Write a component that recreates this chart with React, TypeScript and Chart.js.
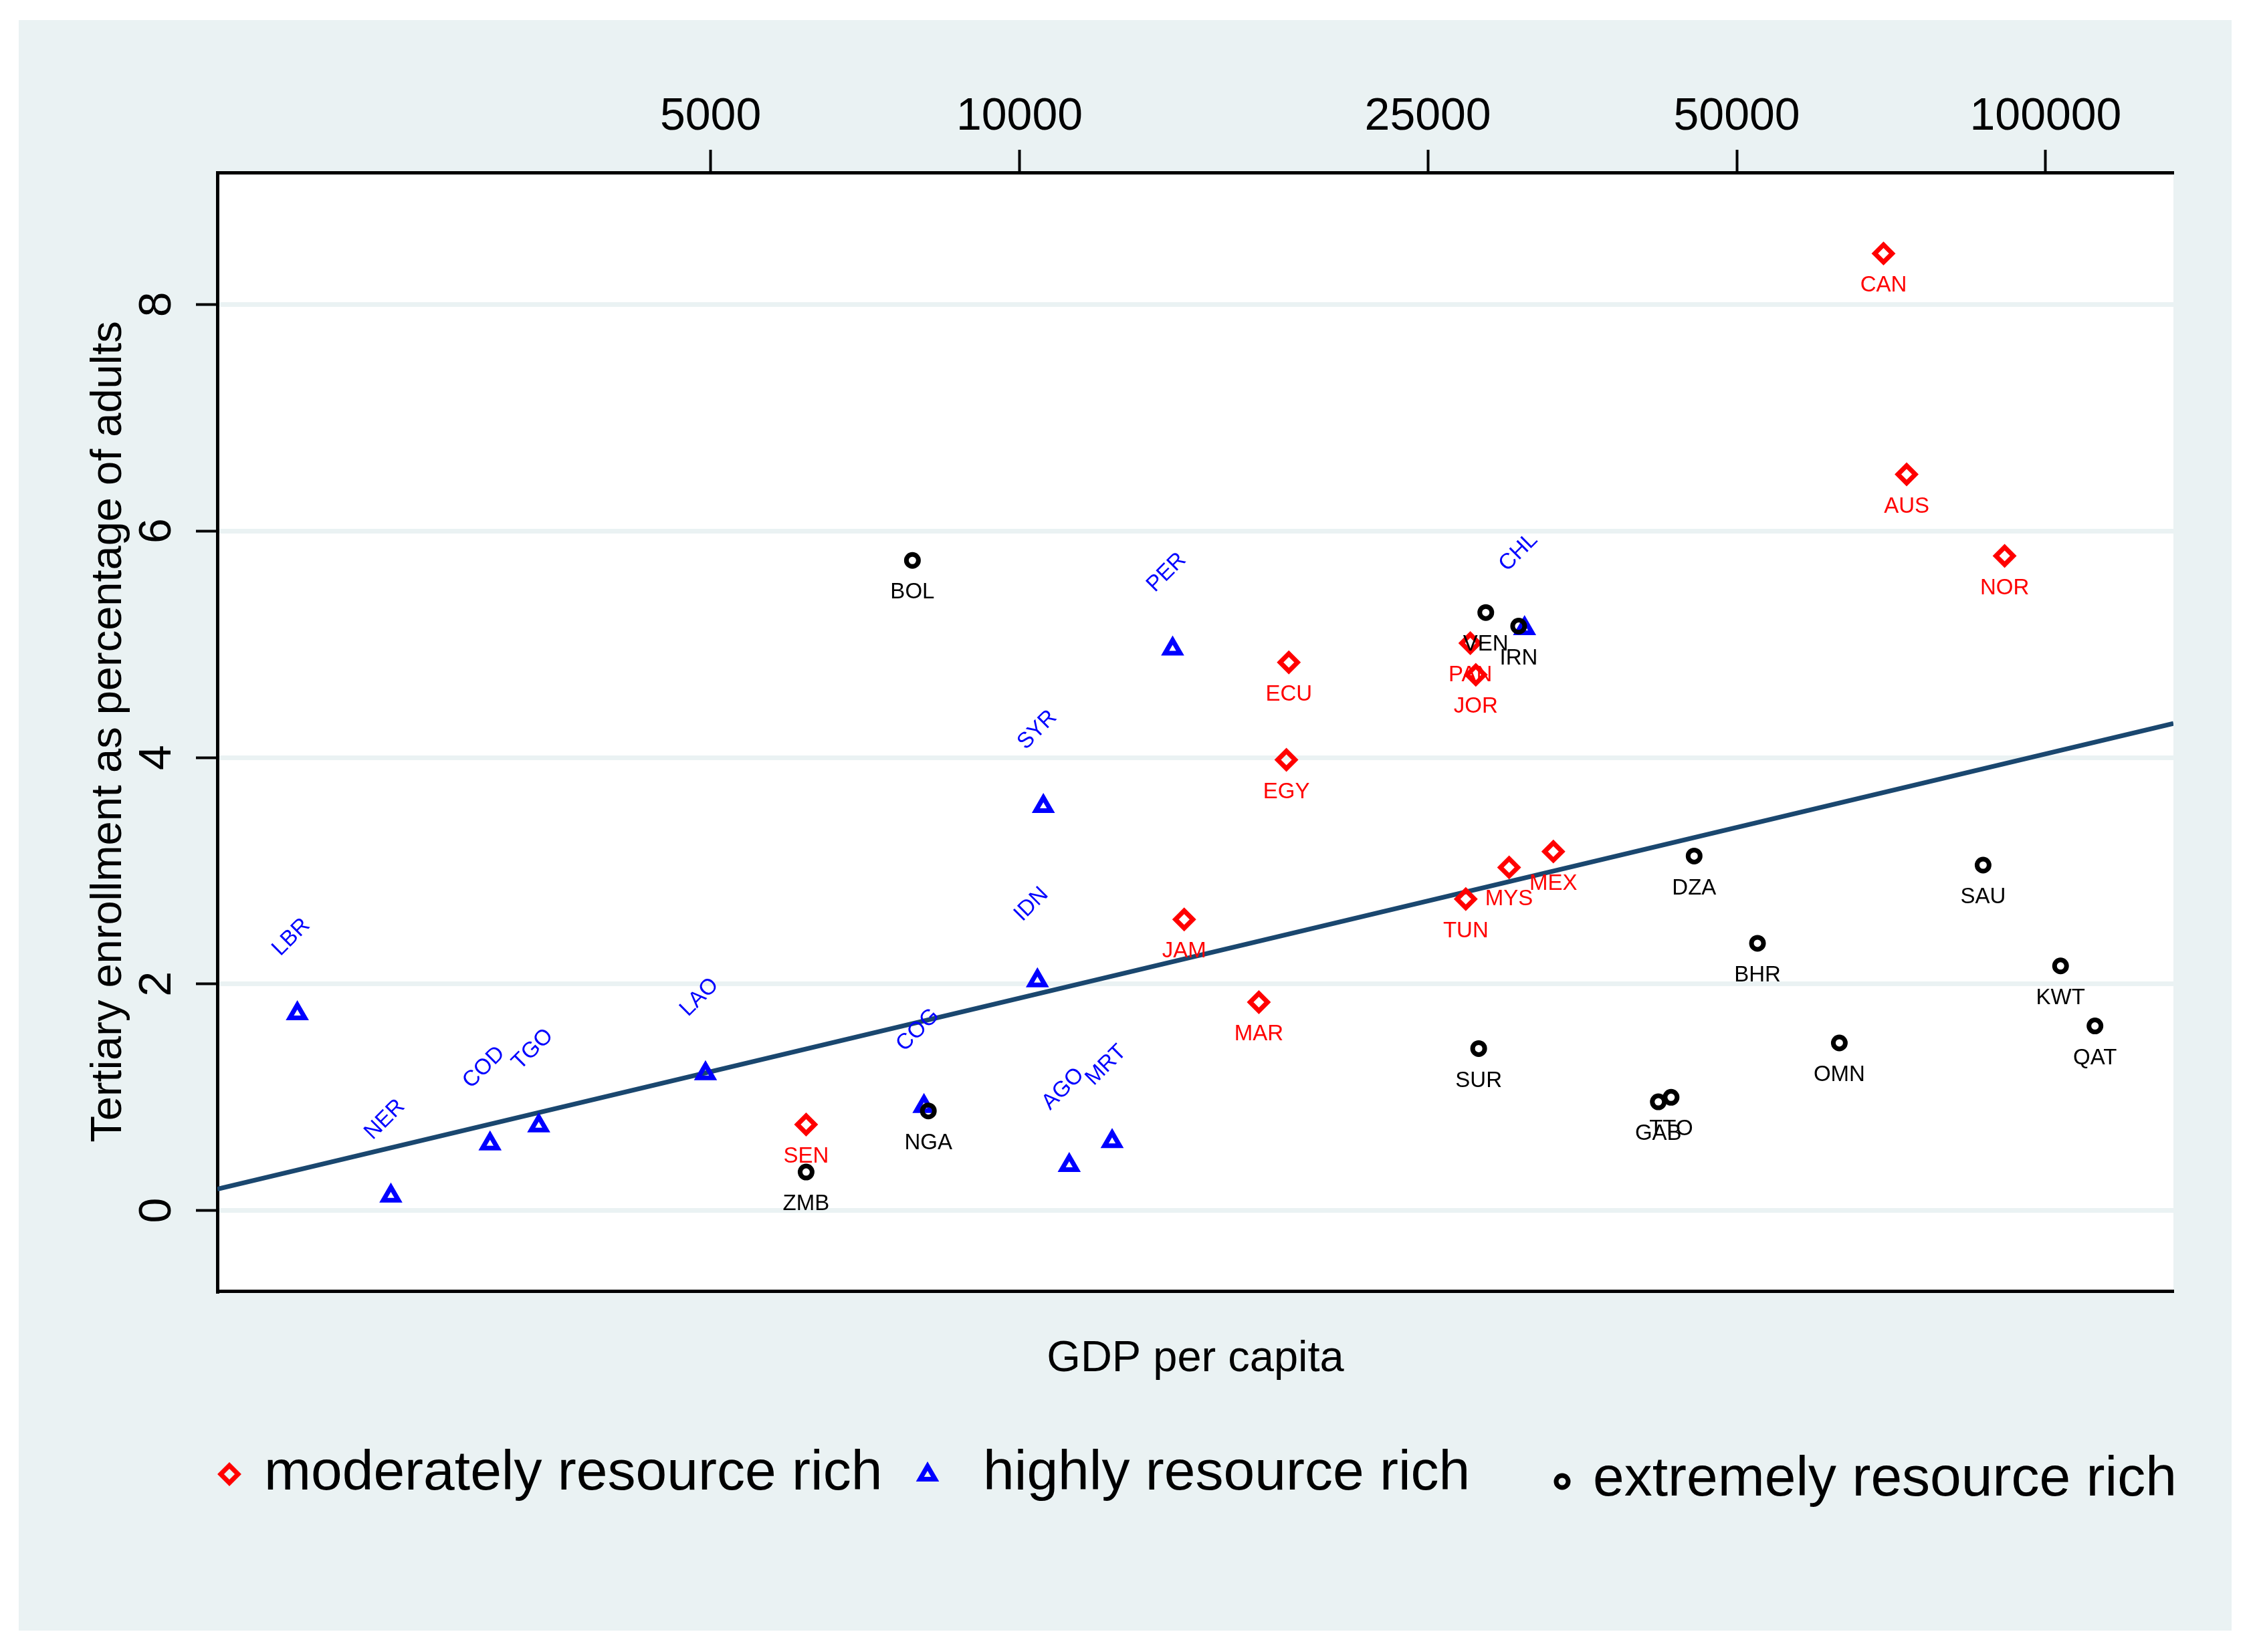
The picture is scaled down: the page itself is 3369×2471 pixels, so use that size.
import React, { useEffect, useRef } from 'react';
import { Chart, registerables } from 'chart.js';

Chart.register(...registerables);

// ---- data ----
const modCodes = ['CAN', 'AUS', 'NOR', 'ECU', 'EGY', 'PAN', 'JOR', 'MYS', 'MEX', 'TUN', 'JAM', 'MAR', 'SEN'];
const modGdp = [69500, 73200, 91200, 18300, 18200, 27500, 27840, 30000, 33130, 27220, 14470, 17110, 6195];
const modEnroll = [8.45, 6.5, 5.78, 4.84, 3.98, 5.01, 4.73, 3.03, 3.17, 2.75, 2.57, 1.84, 0.76];

const highCodes = ['LBR', 'NER', 'COD', 'TGO', 'LAO', 'COG', 'IDN', 'SYR', 'AGO', 'MRT', 'PER', 'CHL'];
const highGdp = [1978, 2440, 3048, 3400, 4943, 8070, 10410, 10550, 11180, 12310, 14100, 31060];
const highEnroll = [1.74, 0.13, 0.59, 0.75, 1.21, 0.92, 2.03, 3.57, 0.4, 0.61, 4.96, 5.14];

const extCodes = ['BOL', 'ZMB', 'NGA', 'VEN', 'IRN', 'SUR', 'DZA', 'GAB', 'TTO', 'BHR', 'OMN', 'SAU', 'KWT', 'QAT'];
const extGdp = [7864, 6195, 8150, 28470, 30650, 28020, 45440, 41930, 43150, 52380, 62940, 86900, 103400, 111700];
const extEnroll = [5.74, 0.34, 0.88, 5.28, 5.16, 1.43, 3.13, 0.96, 1.0, 2.36, 1.48, 3.05, 2.16, 1.63];

const fitGdp = [1653, 133200];
const fitEnroll = [0.19, 4.3];

const xTickValues = [5000, 10000, 25000, 50000, 100000];
const yTickValues = [0, 2, 4, 6, 8];

const seriesNames = ['moderately resource rich', 'highly resource rich', 'extremely resource rich'];
const xTitle = 'GDP per capita';
const yTitle = 'Tertiary enrollment as percentage of adults';

// ---- styles ----
const FAMILY = '"Liberation Sans", Arial, Helvetica, sans-serif';
const BG = '#EAF2F3';
const RED = '#FF0000';
const BLUE = '#0000FF';
const BLACK = '#000000';
const NAVY = '#1A476F';

const W = 3369;
const H = 2471;

const toPts = (xs: number[], ys: number[]) => xs.map((x, i) => ({ x, y: ys[i] }));

function drawMarker(ctx: CanvasRenderingContext2D, style: string, x: number, y: number, r: number, lw: number, color: string) {
  ctx.save();
  ctx.strokeStyle = color;
  ctx.lineWidth = lw;
  ctx.beginPath();
  if (style === 'rectRot') {
    ctx.moveTo(x - r, y);
    ctx.lineTo(x, y - r);
    ctx.lineTo(x + r, y);
    ctx.lineTo(x, y + r);
    ctx.closePath();
  } else if (style === 'triangle') {
    let a = 0;
    ctx.moveTo(x + Math.sin(a) * r, y - Math.cos(a) * r);
    a += (2 * Math.PI) / 3;
    ctx.lineTo(x + Math.sin(a) * r, y - Math.cos(a) * r);
    a += (2 * Math.PI) / 3;
    ctx.lineTo(x + Math.sin(a) * r, y - Math.cos(a) * r);
    ctx.closePath();
  } else {
    ctx.arc(x, y, r, 0, Math.PI * 2);
  }
  ctx.stroke();
  ctx.restore();
}

const backgroundPlugin = {
  id: 'bgPlugin',
  beforeDraw(chart: any) {
    const { ctx, chartArea } = chart;
    ctx.save();
    ctx.fillStyle = '#FFFFFF';
    ctx.fillRect(0, 0, chart.width, chart.height);
    ctx.fillStyle = BG;
    ctx.fillRect(28, 30, 3337 - 28, 2439 - 30);
    ctx.fillStyle = '#FFFFFF';
    ctx.fillRect(chartArea.left, chartArea.top, chartArea.right - chartArea.left, chartArea.bottom - chartArea.top);
    ctx.restore();
  },
};

const pointLabelPlugin = {
  id: 'pointLabels',
  afterDatasetsDraw(chart: any) {
    const ctx = chart.ctx;
    chart.data.datasets.forEach((ds: any, i: number) => {
      const codes: string[] | undefined = ds.codes;
      if (!codes) return;
      const meta = chart.getDatasetMeta(i);
      ctx.save();
      ctx.font = `33px ${FAMILY}`;
      ctx.fillStyle = ds.borderColor;
      ctx.textAlign = 'center';
      ctx.textBaseline = 'middle';
      meta.data.forEach((el: any, j: number) => {
        const x = el.x;
        const y = el.y;
        if (ds.labelMode === 'angled') {
          ctx.save();
          ctx.translate(x - 9, y - 114);
          ctx.rotate(-Math.PI / 4);
          ctx.fillText(codes[j], 0, 0);
          ctx.restore();
        } else {
          ctx.fillText(codes[j], x, y + 48);
        }
      });
      ctx.restore();
    });
  },
};

const legendPos = [
  { mx: 343, my: 2205, tx: 395, ty: 2228 },
  { mx: 1387, my: 2206, tx: 1470, ty: 2228 },
  { mx: 2336, my: 2216, tx: 2382, ty: 2237 },
];

const legendPlugin = {
  id: 'customLegend',
  afterDraw(chart: any) {
    const ctx = chart.ctx;
    legendPos.forEach((p, i) => {
      const ds: any = chart.data.datasets[i];
      drawMarker(ctx, ds.pointStyle, p.mx, p.my, ds.pointRadius, ds.borderWidth, ds.borderColor);
      ctx.save();
      ctx.font = `84px ${FAMILY}`;
      ctx.fillStyle = BLACK;
      ctx.textAlign = 'left';
      ctx.textBaseline = 'alphabetic';
      ctx.fillText(ds.label, p.tx, p.ty);
      ctx.restore();
    });
  },
};

export default function App() {
  const ref = useRef<HTMLCanvasElement | null>(null);

  useEffect(() => {
    if (!ref.current) return;
    Chart.defaults.font.family = FAMILY;
    const chart = new Chart(ref.current, {
      type: 'scatter',
      data: {
        datasets: [
          {
            label: seriesNames[0],
            data: toPts(modGdp, modEnroll),
            pointStyle: 'rectRot',
            pointRadius: 13,
            borderWidth: 7,
            borderColor: RED,
            backgroundColor: 'rgba(0,0,0,0)',
            order: 3,
            codes: modCodes,
            labelMode: 'below',
          } as any,
          {
            label: seriesNames[1],
            data: toPts(highGdp, highEnroll),
            pointStyle: 'triangle',
            pointRadius: 13,
            borderWidth: 7,
            borderColor: BLUE,
            backgroundColor: 'rgba(0,0,0,0)',
            order: 2,
            codes: highCodes,
            labelMode: 'angled',
          } as any,
          {
            label: seriesNames[2],
            data: toPts(extGdp, extEnroll),
            pointStyle: 'circle',
            pointRadius: 9,
            borderWidth: 7,
            borderColor: BLACK,
            backgroundColor: 'rgba(0,0,0,0)',
            order: 1,
            codes: extCodes,
            labelMode: 'below',
          } as any,
          {
            label: 'fit',
            data: toPts(fitGdp, fitEnroll),
            showLine: true,
            pointRadius: 0,
            borderColor: NAVY,
            borderWidth: 7,
            fill: false,
            order: 4,
          } as any,
        ],
      },
      options: {
        responsive: false,
        animation: false,
        devicePixelRatio: 1,
        events: [],
        layout: { padding: { left: 0, right: 119, top: 0, bottom: 0 } },
        plugins: {
          legend: { display: false },
          tooltip: { enabled: false },
          title: { display: false },
        },
        scales: {
          x: {
            type: 'logarithmic',
            position: 'top',
            min: fitGdp[0],
            max: fitGdp[1],
            afterBuildTicks: (s: any) => {
              s.ticks = xTickValues.map((v) => ({ value: v }));
            },
            afterFit: (s: any) => {
              s.height = 258;
            },
            ticks: {
              callback: (v: any) => String(v),
              font: { size: 68, family: FAMILY },
              color: BLACK,
              padding: 8,
              maxRotation: 0,
              minRotation: 0,
              autoSkip: false,
            },
            grid: {
              drawOnChartArea: false,
              drawTicks: true,
              tickLength: 34,
              tickWidth: 4,
              tickColor: BLACK,
              color: BLACK,
            },
            border: { display: true, color: BLACK, width: 5 },
          },
          x2: {
            type: 'linear',
            axis: 'x',
            position: 'bottom',
            ticks: { display: false },
            grid: { display: false },
            border: { display: true, color: BLACK, width: 5 },
            title: {
              display: true,
              text: xTitle,
              color: BLACK,
              font: { size: 65, family: FAMILY },
              padding: { top: 0, bottom: 399 },
            },
            afterFit: (s: any) => {
              s.height = 540;
            },
          },
          y: {
            type: 'linear',
            position: 'left',
            min: -0.71,
            max: 9.165,
            afterBuildTicks: (s: any) => {
              s.ticks = yTickValues.map((v) => ({ value: v }));
            },
            afterFit: (s: any) => {
              s.width = 325;
            },
            ticks: {
              minRotation: 90,
              maxRotation: 90,
              crossAlign: 'center',
              padding: 38,
              font: { size: 68, family: FAMILY },
              color: BLACK,
            },
            grid: {
              color: BG,
              lineWidth: 7,
              tickColor: BLACK,
              tickWidth: 4,
              tickLength: 32,
            },
            border: { display: true, color: BLACK, width: 5 },
            title: {
              display: true,
              text: yTitle,
              color: BLACK,
              font: { size: 65, family: FAMILY },
              padding: { top: 124, bottom: 0 },
            },
          },
        },
      } as any,
      plugins: [backgroundPlugin, pointLabelPlugin, legendPlugin],
    });
    return () => chart.destroy();
  }, []);

  return (
    <div style={{ position: 'absolute', left: 0, top: 0, width: W, height: H }}>
      <canvas ref={ref} width={W} height={H} style={{ display: 'block', width: W, height: H }} />
    </div>
  );
}
